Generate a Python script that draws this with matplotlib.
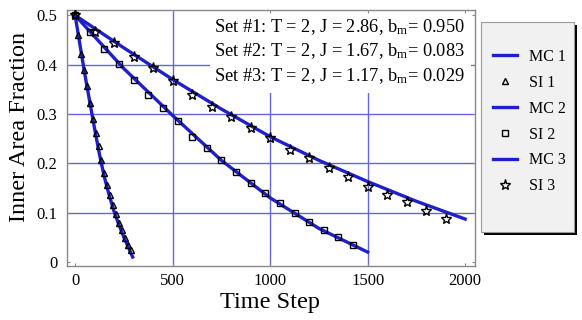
import matplotlib
matplotlib.use("Agg")
import matplotlib.pyplot as plt
from matplotlib.lines import Line2D
from matplotlib.patches import Rectangle

plt.rcParams['font.family'] = ['Liberation Serif', 'DejaVu Serif']
plt.rcParams['mathtext.fontset'] = 'custom'
plt.rcParams['mathtext.rm'] = 'Liberation Serif'
plt.rcParams['mathtext.it'] = 'Liberation Serif:italic'

# ---- data ----
mc1_t = [0, 25, 50, 75, 100, 125, 150, 175, 200, 225, 250, 275, 295]
mc1_y = [0.5, 0.44, 0.38, 0.325, 0.27, 0.218, 0.172, 0.135, 0.102, 0.075, 0.05, 0.028, 0.01]
si1_t = [0, 15, 30, 45, 60, 75, 90, 105, 120, 135, 150, 165, 180, 195, 210, 225, 240, 255, 270, 285]
si1_y = [0.5, 0.46, 0.422, 0.389, 0.356, 0.322, 0.289, 0.262, 0.235, 0.207, 0.18, 0.157, 0.135, 0.115,
         0.097, 0.08, 0.064, 0.048, 0.034, 0.024]

mc2_t = [0, 250, 500, 750, 1000, 1250, 1500]
mc2_y = [0.5, 0.392, 0.297, 0.206, 0.13, 0.068, 0.02]
si2_t = [0, 75, 150, 225, 300, 375, 450, 525, 600, 675, 750, 825, 900, 975, 1050, 1125,
         1200, 1275, 1350, 1425]
si2_y = [0.5, 0.467, 0.431, 0.402, 0.369, 0.339, 0.312, 0.285, 0.254, 0.231, 0.207, 0.183,
         0.160, 0.139, 0.120, 0.100, 0.082, 0.065, 0.050, 0.034]

mc3_t = [0, 250, 500, 750, 1000, 1250, 1500, 1750, 2000]
mc3_y = [0.5, 0.434, 0.37, 0.31, 0.254, 0.206, 0.163, 0.123, 0.087]
si3_t = [0, 100, 200, 300, 400, 500, 600, 700, 800, 900, 1000, 1100, 1200, 1300, 1400, 1500,
         1600, 1700, 1800, 1900]
si3_y = [0.5, 0.467, 0.444, 0.416, 0.393, 0.366, 0.339, 0.315, 0.293, 0.271, 0.251, 0.228,
         0.210, 0.190, 0.173, 0.153, 0.136, 0.122, 0.104, 0.087]

set_labels = [
    "Set #1: T = 2, J = 2.86, b$_{\\mathrm{m}}$= 0.950",
    "Set #2: T = 2, J = 1.67, b$_{\\mathrm{m}}$= 0.083",
    "Set #3: T = 2, J = 1.17, b$_{\\mathrm{m}}$= 0.029",
]
legend_labels = ["MC 1", "SI 1", "MC 2", "SI 2", "MC 3", "SI 3"]
xticks = [0, 500, 1000, 1500, 2000]
yticks = [0, 0.1, 0.2, 0.3, 0.4, 0.5]
ytick_labels = ["0", "0.1", "0.2", "0.3", "0.4", "0.5"]
grid_x = [500, 1000, 1500]
grid_y = [0.1, 0.2, 0.3, 0.4]

# ---- figure ----
fig = plt.figure(figsize=(5.82, 3.2), dpi=100)
ax = fig.add_axes([0.115, 0.169, 0.701, 0.800])

line_c = '#1f1fcc'
grid_c = '#6464dc'

for gx in grid_x:
    ax.axvline(gx, color=grid_c, lw=1.0, zorder=1)
for gy in grid_y:
    ax.axhline(gy, color=grid_c, lw=1.0, zorder=1)

# white area behind annotation text
ax.add_patch(Rectangle((0.35, 0.675), 0.64, 0.32, transform=ax.transAxes,
                       facecolor='white', edgecolor='none', zorder=1.5))

ax.plot(mc1_t, mc1_y, color=line_c, lw=2.4, zorder=2)
ax.plot(mc2_t, mc2_y, color=line_c, lw=2.4, zorder=2)
ax.plot(mc3_t, mc3_y, color=line_c, lw=2.4, zorder=2)
ax.plot(si1_t, si1_y, ls='none', marker='^', ms=4.5, mfc='none', mec='black', mew=1.0, zorder=3)
ax.plot(si2_t, si2_y, ls='none', marker='s', ms=4, mfc='none', mec='black', mew=1.0, zorder=3)
ax.plot(si3_t, si3_y, ls='none', marker='*', ms=8, mfc='none', mec='black', mew=1.0, zorder=3)

for yy, lab in zip([0.934, 0.840, 0.742], set_labels):
    ax.text(0.975, yy, lab, transform=ax.transAxes, ha='right', va='center',
            fontsize=13.2, zorder=4)

ax.set_xlim(-42, 2050)
ax.set_ylim(-0.008, 0.511)
ax.set_xticks(xticks)
ax.set_yticks(yticks)
ax.set_yticklabels(ytick_labels)
ax.tick_params(labelsize=12, length=2, color='#888888', direction='in',
               top=True, right=True)
ax.tick_params(axis='x', pad=5)
ax.tick_params(axis='y', pad=7)
for s in ax.spines.values():
    s.set_color('#888888')
    s.set_linewidth(1.0)

ax.set_xlabel("Time Step", fontsize=17.5)
ax.set_ylabel("Inner Area Fraction", fontsize=17.5)
ax.xaxis.set_label_coords(0.4975, -0.10)
ax.yaxis.set_label_coords(-0.091, 0.543)

# legend frame with black drop shadow
fx, fy, fw, fh = 481 / 582, 88 / 320, 93 / 582, 210 / 320
fig.patches.append(Rectangle((fx + 3 / 582, fy - 3 / 320), fw, fh, transform=fig.transFigure,
                             facecolor='black', edgecolor='none', zorder=0))
fig.patches.append(Rectangle((fx, fy), fw, fh, transform=fig.transFigure,
                             facecolor='#f1f1f1', edgecolor='#999999', lw=0.8, zorder=1))

handles = [
    Line2D([], [], color=line_c, lw=2.4),
    Line2D([], [], ls='none', marker='^', ms=4.5, mfc='none', mec='black', mew=1.0),
    Line2D([], [], color=line_c, lw=2.4),
    Line2D([], [], ls='none', marker='s', ms=4, mfc='none', mec='black', mew=1.0),
    Line2D([], [], color=line_c, lw=2.4),
    Line2D([], [], ls='none', marker='*', ms=8, mfc='none', mec='black', mew=1.0),
]
leg = fig.legend(handles, legend_labels, loc='center left', bbox_to_anchor=(0.847, 0.620),
                 fontsize=11.5, frameon=False, handlelength=1.5, handletextpad=0.75,
                 labelspacing=0.62, borderpad=0, borderaxespad=0)

fig.savefig("out.png", dpi=100)
